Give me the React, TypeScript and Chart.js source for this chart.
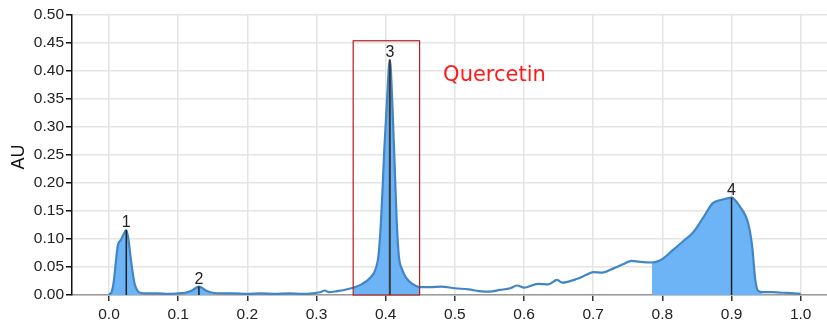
import React, { useEffect, useRef } from 'react';
import { Chart, registerables } from 'chart.js';
Chart.register(...registerables);

// Retention (fraction of run) and absorbance (AU)
const timeX = [
  0.000, 0.004, 0.007, 0.010, 0.013, 0.017, 0.021, 0.025, 0.028, 0.031, 0.034, 0.037, 0.041, 0.045,
  0.055, 0.070, 0.085, 0.100, 0.110, 0.120, 0.130, 0.140, 0.150, 0.165, 0.180, 0.200, 0.220, 0.240,
  0.260, 0.280, 0.295, 0.305, 0.312, 0.318, 0.330, 0.340, 0.353, 0.365, 0.377, 0.385, 0.390, 0.394,
  0.398, 0.402, 0.406, 0.410, 0.413, 0.416, 0.419, 0.424, 0.430, 0.437, 0.450, 0.465, 0.480, 0.500,
  0.520, 0.535, 0.550, 0.565, 0.580, 0.590, 0.600, 0.620, 0.635, 0.648, 0.655, 0.677, 0.690, 0.700,
  0.713, 0.730, 0.745, 0.755, 0.768, 0.785, 0.797, 0.815, 0.830, 0.844, 0.859, 0.873, 0.886, 0.900,
  0.912, 0.924, 0.930, 0.934, 0.938, 0.945, 0.960, 0.975, 0.990, 1.000,
];
const absorbance = [
  0.001, 0.006, 0.025, 0.060, 0.090, 0.098, 0.108, 0.116, 0.100, 0.070, 0.042, 0.020, 0.008, 0.004,
  0.003, 0.003, 0.002, 0.003, 0.004, 0.008, 0.015, 0.008, 0.004, 0.003, 0.003, 0.002, 0.003, 0.002,
  0.003, 0.002, 0.003, 0.005, 0.008, 0.005, 0.007, 0.009, 0.013, 0.019, 0.030, 0.045, 0.075, 0.150,
  0.260, 0.350, 0.420, 0.330, 0.230, 0.130, 0.070, 0.045, 0.030, 0.021, 0.014, 0.014, 0.015, 0.012,
  0.010, 0.007, 0.006, 0.009, 0.012, 0.017, 0.013, 0.020, 0.019, 0.027, 0.022, 0.029, 0.036, 0.041,
  0.040, 0.048, 0.056, 0.061, 0.059, 0.058, 0.062, 0.080, 0.096, 0.111, 0.138, 0.164, 0.170, 0.174,
  0.158, 0.128, 0.085, 0.030, 0.008, 0.005, 0.005, 0.004, 0.003, 0.002,
];

const xTicks = [0.0, 0.1, 0.2, 0.3, 0.4, 0.5, 0.6, 0.7, 0.8, 0.9, 1.0];
const yTicks = [0.0, 0.05, 0.1, 0.15, 0.2, 0.25, 0.3, 0.35, 0.4, 0.45, 0.5];

// Integrated (filled) regions
const fillStarts = [0.0, 0.11, 0.353, 0.785];
const fillEnds = [0.045, 0.15, 0.45, 0.945];

// Peaks
const peakX = [0.025, 0.130, 0.406, 0.900];
const peakY = [0.116, 0.015, 0.420, 0.174];
const peakLabels = ['1', '2', '3', '4'];

// Highlight box and annotation
const boxRange = [0.353, 0.449];
const boxTop = 0.454;
const annotationText = 'Quercetin';
const annotationX = 0.483;
const annotationY = 0.391;
const yTitle = 'AU';

const LINE = 'rgb(66,133,198)';
const FILL = 'rgb(108,180,246)';
const FONT = '"Liberation Sans", Arial, sans-serif';

export default function App() {
  const ref = useRef<HTMLCanvasElement>(null);
  useEffect(() => {
    if (!ref.current) return;
    const points = timeX.map((x, i) => ({ x, y: absorbance[i] }));
    const fillSets = fillStarts.map((a, k) => ({
      type: 'line' as const,
      data: points.filter((p) => p.x >= a && p.x <= fillEnds[k]),
      borderWidth: 0,
      borderColor: 'rgba(0,0,0,0)',
      backgroundColor: FILL,
      fill: 'origin',
      pointRadius: 0,
      cubicInterpolationMode: 'monotone' as const,
      order: 3,
    }));
    const peakSets = peakX.map((px, k) => ({
      type: 'line' as const,
      data: [{ x: px, y: 0 }, { x: px, y: peakY[k] }],
      borderColor: k === 2 ? '#3a3a3a' : '#1e1e1e',
      borderWidth: k === 2 ? 2 : 1.5,
      pointRadius: 0,
      fill: false,
      order: 0,
    }));

    const overlay = {
      id: 'overlay',
      afterDatasetsDraw(chart: any) {
        const { ctx, scales, chartArea } = chart;
        const x = scales.x, y = scales.y;
        ctx.save();
        // box
        ctx.strokeStyle = '#b01e1e';
        ctx.lineWidth = 1.2;
        const l = x.getPixelForValue(boxRange[0]);
        const r = x.getPixelForValue(boxRange[1]);
        const t = y.getPixelForValue(boxTop);
        const b = y.getPixelForValue(0);
        ctx.strokeRect(l, t, r - l, b - t);
        // peak labels
        ctx.font = '16px ' + FONT;
        ctx.fillStyle = '#222';
        ctx.textAlign = 'center';
        ctx.textBaseline = 'alphabetic';
        peakX.forEach((px, k) => {
          ctx.fillText(peakLabels[k], x.getPixelForValue(px), y.getPixelForValue(peakY[k]) - 3);
        });
        // annotation
        ctx.font = '21px "DejaVu Sans", sans-serif';
        ctx.fillStyle = '#ff1a1a';
        ctx.textAlign = 'left';
        ctx.textBaseline = 'middle';
        ctx.fillText(annotationText, x.getPixelForValue(annotationX), y.getPixelForValue(annotationY));
        // y title
        ctx.translate(19, (chartArea.top + chartArea.bottom) / 2 + 2);
        ctx.rotate(-Math.PI / 2);
        ctx.font = '18px ' + FONT;
        ctx.fillStyle = '#111';
        ctx.textAlign = 'center';
        ctx.textBaseline = 'middle';
        ctx.fillText(yTitle, 0, 0);
        ctx.restore();
      },
    };

    const bg = {
      id: 'bg',
      beforeDraw(chart: any) {
        const { ctx, width, height } = chart;
        ctx.save();
        ctx.fillStyle = '#fff';
        ctx.fillRect(0, 0, width, height);
        ctx.restore();
      },
    };

    const chart = new Chart(ref.current, {
      type: 'line',
      data: {
        datasets: [
          ...peakSets,
          {
            type: 'line',
            data: points,
            borderColor: LINE,
            borderWidth: 2.2,
            pointRadius: 0,
            fill: false,
            cubicInterpolationMode: 'monotone',
            order: 1,
          },
          ...fillSets,
        ] as any,
      },
      options: {
        animation: false,
        responsive: false,
        layout: { padding: { top: 15, right: 0, left: 0, bottom: 0 } },
        plugins: { legend: { display: false }, tooltip: { enabled: false } },
        scales: {
          x: {
            type: 'linear',
            min: -0.0535,
            max: 1.038,
            afterBuildTicks: (s: any) => {
              s.ticks = xTicks.map((v) => ({ value: v }));
            },
            afterFit: (s: any) => {
              s.height = 29;
            },
            ticks: {
              callback: (v: any) => Number(v).toFixed(1),
              font: { size: 15.5, family: FONT },
              color: '#222',
              padding: 4,
              maxRotation: 0,
              autoSkip: false,
            },
            grid: { color: '#e4e4e4', lineWidth: 1.5, tickColor: '#333', tickLength: 6 },
            border: { color: '#9a9a9a', width: 1.5 },
          },
          y: {
            type: 'linear',
            min: 0,
            max: 0.5,
            afterBuildTicks: (s: any) => {
              s.ticks = yTicks.map((v) => ({ value: v }));
            },
            afterFit: (s: any) => {
              s.width = 72;
            },
            ticks: {
              callback: (v: any) => Number(v).toFixed(2),
              font: { size: 15.5, family: FONT },
              color: '#222',
              padding: 2,
              autoSkip: false,
            },
            grid: { color: '#e4e4e4', lineWidth: 1.5, tickColor: '#111', tickLength: 6 },
            border: { color: '#111', width: 1.5 },
          },
        },
      },
      plugins: [bg, overlay],
    });
    return () => chart.destroy();
  }, []);
  return (
    <canvas
      ref={ref}
      width={827}
      height={324}
      style={{ position: 'fixed', left: 0, top: 0, width: 827, height: 324, display: 'block' }}
    />
  );
}
